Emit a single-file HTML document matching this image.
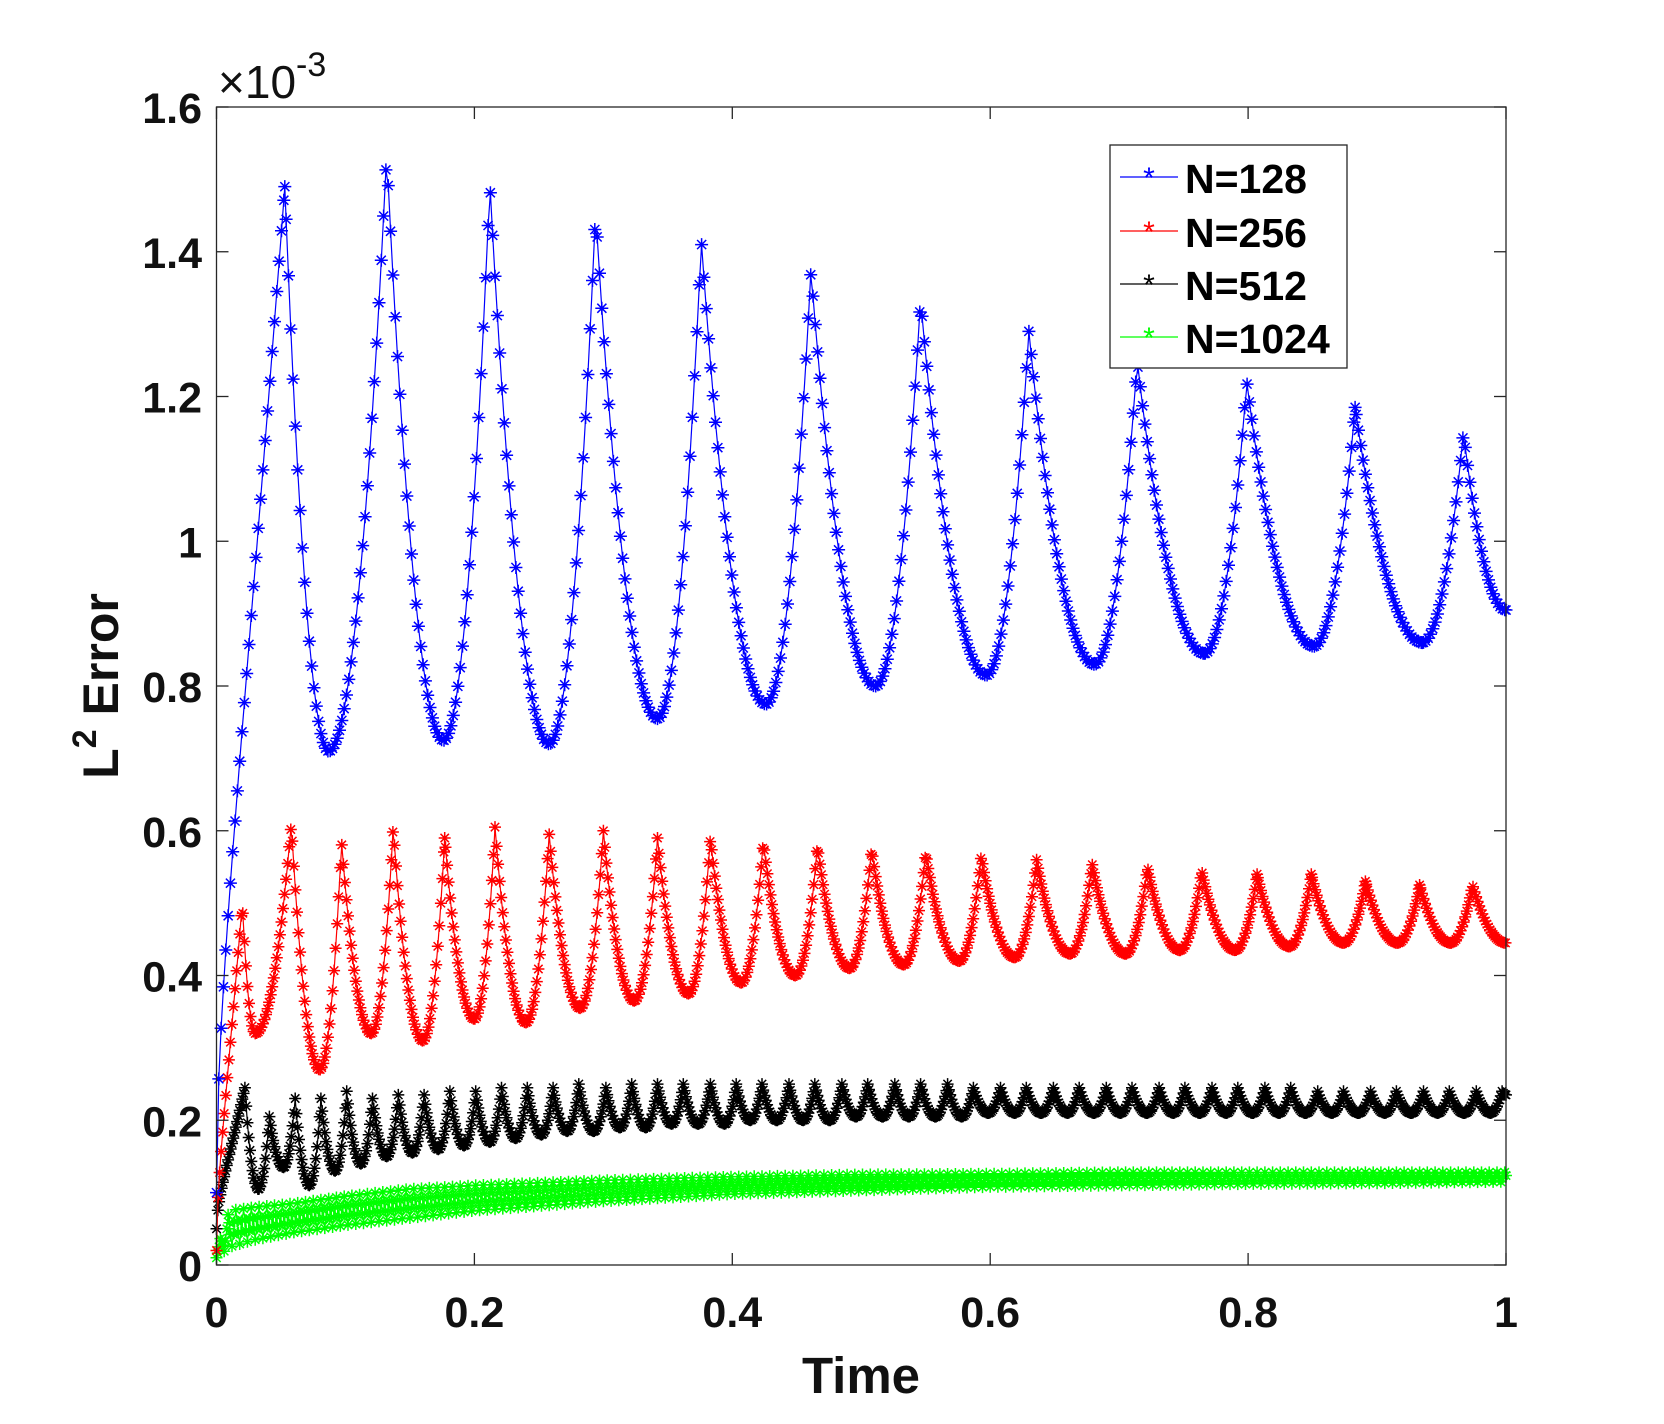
<!DOCTYPE html>
<html><head><meta charset="utf-8"><style>
html,body{margin:0;padding:0;background:#fff;}
svg{display:block;font-family:"Liberation Sans",Arial,sans-serif;}
</style></head><body>
<svg id="chart" width="1664" height="1424" viewBox="0 0 1664 1424" xmlns="http://www.w3.org/2000/svg">
<rect width="1664" height="1424" fill="#fff"/>
<g id="series"></g>
<g id="axes"></g>
</svg>
<script>
// ---- data (values in units of 1e-3) ----
const xTicks = [0, 0.2, 0.4, 0.6, 0.8, 1];
const xTickLabels = ["0", "0.2", "0.4", "0.6", "0.8", "1"];
const yTicks = [0, 0.2, 0.4, 0.6, 0.8, 1, 1.2, 1.4, 1.6];
const yTickLabels = ["0", "0.2", "0.4", "0.6", "0.8", "1", "1.2", "1.4", "1.6"];
const seriesNames = ["N=128", "N=256", "N=512", "N=1024"];

// N=128 extrema (time, value) alternating from start
const blueT = [0, 0.053, 0.087, 0.132, 0.176, 0.212, 0.258, 0.294, 0.342, 0.376, 0.426, 0.461, 0.511, 0.546, 0.597, 0.630, 0.681, 0.714, 0.766, 0.799, 0.851, 0.883, 0.935, 0.967, 1.0];
const blueV = [0.10, 1.49, 0.71, 1.535, 0.725, 1.495, 0.72, 1.455, 0.755, 1.415, 0.775, 1.375, 0.80, 1.335, 0.815, 1.29, 0.83, 1.25, 0.845, 1.22, 0.855, 1.185, 0.86, 1.15, 0.905];

// N=256 extrema
const redT = [0, 0.020, 0.030, 0.058, 0.080, 0.097, 0.120, 0.137, 0.160, 0.177, 0.200, 0.216, 0.240, 0.258, 0.282, 0.300, 0.324, 0.342, 0.366, 0.383, 0.407, 0.424, 0.449, 0.466, 0.491, 0.508, 0.533, 0.550, 0.576, 0.593, 0.619, 0.636, 0.662, 0.679, 0.705, 0.722, 0.747, 0.764, 0.790, 0.807, 0.832, 0.849, 0.874, 0.891, 0.916, 0.933, 0.957, 0.974, 1.0];
const redV = [0.02, 0.50, 0.32, 0.61, 0.27, 0.585, 0.32, 0.605, 0.31, 0.59, 0.34, 0.605, 0.335, 0.595, 0.355, 0.60, 0.365, 0.59, 0.375, 0.59, 0.39, 0.585, 0.40, 0.58, 0.41, 0.575, 0.415, 0.57, 0.42, 0.565, 0.425, 0.56, 0.43, 0.555, 0.43, 0.55, 0.435, 0.545, 0.435, 0.54, 0.44, 0.54, 0.445, 0.53, 0.445, 0.525, 0.445, 0.525, 0.445];

// N=512 peaks and following troughs
const blackPeakT = [0.022,0.041,0.061,0.081,0.101,0.121,0.141,0.161,0.181,0.201,0.221,0.241,0.261,0.281,0.302,0.322,0.342,0.362,0.383,0.403,0.423,0.444,0.464,0.485,0.505,0.526,0.546,0.567,0.587,0.608,0.628,0.649,0.669,0.690,0.710,0.731,0.751,0.772,0.792,0.813,0.833,0.854,0.874,0.895,0.915,0.936,0.956,0.977,0.997];
const blackPeakV = [0.245,0.205,0.23,0.23,0.24,0.23,0.235,0.235,0.24,0.24,0.245,0.245,0.245,0.25,0.245,0.25,0.25,0.25,0.25,0.25,0.25,0.25,0.25,0.25,0.25,0.25,0.25,0.25,0.245,0.245,0.245,0.245,0.245,0.245,0.245,0.245,0.245,0.245,0.245,0.245,0.245,0.24,0.24,0.24,0.24,0.24,0.24,0.24,0.24];
const blackTroughV = [0.105,0.135,0.11,0.13,0.14,0.15,0.155,0.16,0.165,0.17,0.175,0.18,0.185,0.185,0.19,0.19,0.195,0.195,0.195,0.20,0.20,0.20,0.20,0.205,0.205,0.205,0.205,0.205,0.21,0.21,0.21,0.21,0.21,0.21,0.21,0.21,0.21,0.21,0.21,0.21,0.21,0.21,0.21,0.21,0.21,0.21,0.21,0.21];
const blackStartV = 0.05;

// N=1024 band envelope at knots
const greenT = [0, 0.01, 0.03, 0.06, 0.1, 0.15, 0.2, 0.3, 0.4, 0.5, 0.6, 0.7, 0.8, 0.9, 1.0];
const greenLo = [0.01, 0.025, 0.035, 0.045, 0.055, 0.065, 0.075, 0.088, 0.098, 0.103, 0.108, 0.11, 0.112, 0.113, 0.115];
const greenHi = [0.02, 0.075, 0.08, 0.085, 0.095, 0.105, 0.11, 0.117, 0.122, 0.125, 0.126, 0.128, 0.128, 0.128, 0.128];

// ---- axes ----
const L = 216.5, R = 1506, T = 107, B = 1265;
const X = t => L + (R - L) * t;
const Y = v => B - (B - T) * v / 1.6;
const NS = "http://www.w3.org/2000/svg";
function mk(tag, attrs, parent) {
  const e = document.createElementNS(NS, tag);
  for (const k in attrs) e.setAttribute(k, attrs[k]);
  parent.appendChild(e); return e;
}
const axes = document.getElementById('axes');
const seriesG = document.getElementById('series');

function fromExtrema(ts, vs, step) {
  const grid = [];
  for (let t = 0; t <= 1.00001; t += step) grid.push(t);
  ts.forEach(t => { if (!grid.some(g => Math.abs(g - t) < step * 0.35)) grid.push(t); });
  grid.sort((a, b) => a - b);
  return grid.map(t => {
    let i = 0; while (i < ts.length - 2 && t > ts[i + 1]) i++;
    const t0 = ts[i], t1 = ts[i + 1], v0 = vs[i], v1 = vs[i + 1];
    let u = Math.min(1, Math.max(0, (t - t0) / (t1 - t0)));
    let v;
    if (i === 0) v = v0 + (v1 - v0) * Math.sqrt(u) * (0.6 + 0.4 * u);
    else if (v1 > v0) v = v0 + (v1 - v0) * u * u;
    else v = v1 + (v0 - v1) * (1 - u) * (1 - u);
    return [t, v];
  });
}
function blackExtrema() {
  const ts = [0], vs = [blackStartV];
  for (let i = 0; i < blackPeakT.length; i++) {
    ts.push(blackPeakT[i]); vs.push(blackPeakV[i]);
    if (i < blackTroughV.length) {
      const nt = blackPeakT[i + 1];
      ts.push(blackPeakT[i] + 0.55 * (nt - blackPeakT[i])); vs.push(blackTroughV[i]);
    }
  }
  ts.push(1.0); vs.push(0.235);
  return [ts, vs];
}
function greenPts(step) {
  const pts = []; let k = 0;
  for (let t = 0; t <= 1.00001; t += step, k++) {
    let i = 0; while (i < greenT.length - 2 && t > greenT[i + 1]) i++;
    const u = (t - greenT[i]) / (greenT[i + 1] - greenT[i]);
    const lo = greenLo[i] + (greenLo[i + 1] - greenLo[i]) * u;
    const hi = greenHi[i] + (greenHi[i + 1] - greenHi[i]) * u;
    pts.push([t, (k % 6 < 3) ? lo + (hi - lo) * (k % 6) / 3 : hi - (hi - lo) * ((k % 6) - 3) / 3]);
  }
  return pts;
}
function drawSeries(pts, color, name, ms) {
  const g = mk('g', {}, seriesG);
  
  
  let d = '';
  pts.forEach((p, i) => { d += (i ? 'L' : 'M') + X(p[0]).toFixed(1) + ' ' + Y(p[1]).toFixed(1); });
  const line = mk('path', { d: d, fill: 'none', stroke: color, 'stroke-width': 1.2 }, g);
  
  
  let m = '';
  const a = ms, b = ms * 0.7;
  pts.forEach(p => {
    const x = X(p[0]), y = Y(p[1]);
    m += `M${(x - a).toFixed(1)} ${y.toFixed(1)}h${2 * a}M${x.toFixed(1)} ${(y - a).toFixed(1)}v${2 * a}M${(x - b).toFixed(1)} ${(y - b).toFixed(1)}l${2 * b} ${2 * b}M${(x - b).toFixed(1)} ${(y + b).toFixed(1)}l${2 * b} ${-2 * b}`;
  });
  const mp = mk('path', { d: m, fill: 'none', stroke: color, 'stroke-width': 1.5 }, g);
  
  
}
drawSeries(greenPts(0.001), '#00ff00', 'series-n1024', 6);
const be = blackExtrema();
drawSeries(fromExtrema(be[0], be[1], 0.001), '#000000', 'series-n512', 6);
drawSeries(fromExtrema(redT, redV, 0.0012), '#ff0000', 'series-n256', 6);
drawSeries(fromExtrema(blueT, blueV, 0.0018), '#0000ff', 'series-n128', 6.5);

const frame = mk('rect', { x: L, y: T, width: R - L, height: B - T, fill: 'none', stroke: '#262626', 'stroke-width': 1.3 }, axes);


xTicks.forEach((t, i) => {
  const x = X(t);
  mk('line', { x1: x, y1: B, x2: x, y2: B - 12, stroke: '#262626', 'stroke-width': 1.3 }, axes);
  mk('line', { x1: x, y1: T, x2: x, y2: T + 12, stroke: '#262626', 'stroke-width': 1.3 }, axes);
  const tx = mk('text', { x: x, y: 1327, 'text-anchor': 'middle', 'font-size': 43, 'font-weight': 'bold', fill: '#111' }, axes);
  tx.textContent = xTickLabels[i];
  
  
});
yTicks.forEach((v, i) => {
  const y = Y(v);
  mk('line', { x1: L, y1: y, x2: L + 12, y2: y, stroke: '#262626', 'stroke-width': 1.3 }, axes);
  mk('line', { x1: R, y1: y, x2: R - 12, y2: y, stroke: '#262626', 'stroke-width': 1.3 }, axes);
  const tx = mk('text', { x: 202, y: y + 16, 'text-anchor': 'end', 'font-size': 43, 'font-weight': 'bold', fill: '#111' }, axes);
  tx.textContent = yTickLabels[i];
  
  
});
</script>
<svg style="position:absolute;left:0;top:0" width="1664" height="1424">
  <text x="218" y="98" font-size="46" fill="#111" font-family="Liberation Sans, sans-serif">×10<tspan dy="-22" font-size="34">-3</tspan></text>
  <text x="861" y="1393" text-anchor="middle" font-size="51" font-weight="bold" fill="#111" font-family="Liberation Sans, sans-serif">Time</text>
  <text transform="translate(118,686) rotate(-90)" text-anchor="middle" font-size="50" font-weight="bold" fill="#111" font-family="Liberation Sans, sans-serif">L<tspan dy="-22" font-size="34">2</tspan><tspan dy="22"> Error</tspan></text>
  <g>
    <rect x="1110" y="145" width="237" height="223" fill="#fff" stroke="#262626" stroke-width="1.3"/>
    <g>
      <line x1="1120" y1="177" x2="1178" y2="177" stroke="#0000ff" stroke-width="1.3"/>
      <text x="1149" y="188" text-anchor="middle" font-size="30" fill="#0000ff">*</text>
      <text x="1185" y="193" font-size="41" font-weight="bold" fill="#000" font-family="Liberation Sans, sans-serif">N=128</text>
    </g>
    <g>
      <line x1="1120" y1="231" x2="1178" y2="231" stroke="#ff0000" stroke-width="1.3"/>
      <text x="1149" y="242" text-anchor="middle" font-size="30" fill="#ff0000">*</text>
      <text x="1185" y="247" font-size="41" font-weight="bold" fill="#000" font-family="Liberation Sans, sans-serif">N=256</text>
    </g>
    <g>
      <line x1="1120" y1="284" x2="1178" y2="284" stroke="#000" stroke-width="1.3"/>
      <text x="1149" y="295" text-anchor="middle" font-size="30" fill="#000">*</text>
      <text x="1185" y="300" font-size="41" font-weight="bold" fill="#000" font-family="Liberation Sans, sans-serif">N=512</text>
    </g>
    <g>
      <line x1="1120" y1="337" x2="1178" y2="337" stroke="#00ff00" stroke-width="1.3"/>
      <text x="1149" y="348" text-anchor="middle" font-size="30" fill="#00ff00">*</text>
      <text x="1185" y="353" font-size="41" font-weight="bold" fill="#000" font-family="Liberation Sans, sans-serif">N=1024</text>
    </g>
  </g>
</svg>
</body></html>
